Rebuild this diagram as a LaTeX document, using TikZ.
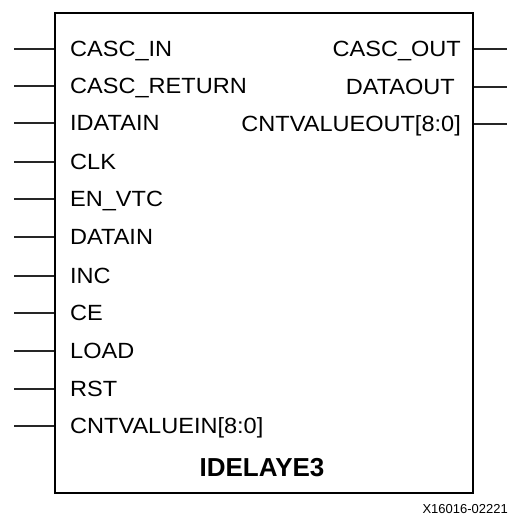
\documentclass[tikz,border=0pt]{standalone}
\usepackage{fontspec}
\setmainfont{Liberation Sans}
\newfontfamily\widesans{Liberation Sans}[FakeStretch=1.07]
\usetikzlibrary{positioning}

\begin{document}
\begin{tikzpicture}[x=1pt,y=-1pt,line cap=butt,line join=miter]
  \useasboundingbox (0,0) rectangle (509,516);
  \tikzset{
    pinlabel/.style={font=\widesans\fontsize{22}{22}\selectfont, inner sep=0pt},
    pinwire/.style={black!85, line width=1.1pt}
  }

  % block outline
  \node[draw, line width=2.4pt, minimum width=418pt, minimum height=480pt,
        inner sep=0pt, anchor=north west] (blk) at (54,12) {};

  % input pins
  \foreach \name/\yy [count=\i] in {CASC\_IN/49, CASC\_RETURN/86, IDATAIN/123,
      CLK/162, EN\_VTC/199, DATAIN/237, INC/276, CE/313, LOAD/351, RST/389,
      CNTVALUEIN[8:0]/426}{
    \coordinate (in\i) at (14,\yy);
    \node[pinlabel, anchor=base west] (inlbl\i) at (70,\yy+7.6) {\name};
    \draw[pinwire] (in\i) -- (in\i -| blk.west);
  }

  % output pins
  \foreach \name/\yy/\xr [count=\j] in {CASC\_OUT/49/461, DATAOUT/87/455,
      CNTVALUEOUT[8:0]/124/461}{
    \coordinate (out\j) at (507,\yy);
    \node[pinlabel, anchor=base east] (outlbl\j) at (\xr,\yy+7.2) {\name};
    \draw[pinwire] (out\j -| blk.east) -- (out\j);
  }

  % primitive name
  \node[font=\bfseries\fontsize{26}{26}\selectfont, anchor=base] (title)
    at (262,476.5) {IDELAYE3};

  % figure number
  \node[font=\fontsize{13}{13}\selectfont, anchor=base east, inner sep=0pt] (fignum)
    at (508,513.5) {X16016-02221};
\end{tikzpicture}
\end{document}
